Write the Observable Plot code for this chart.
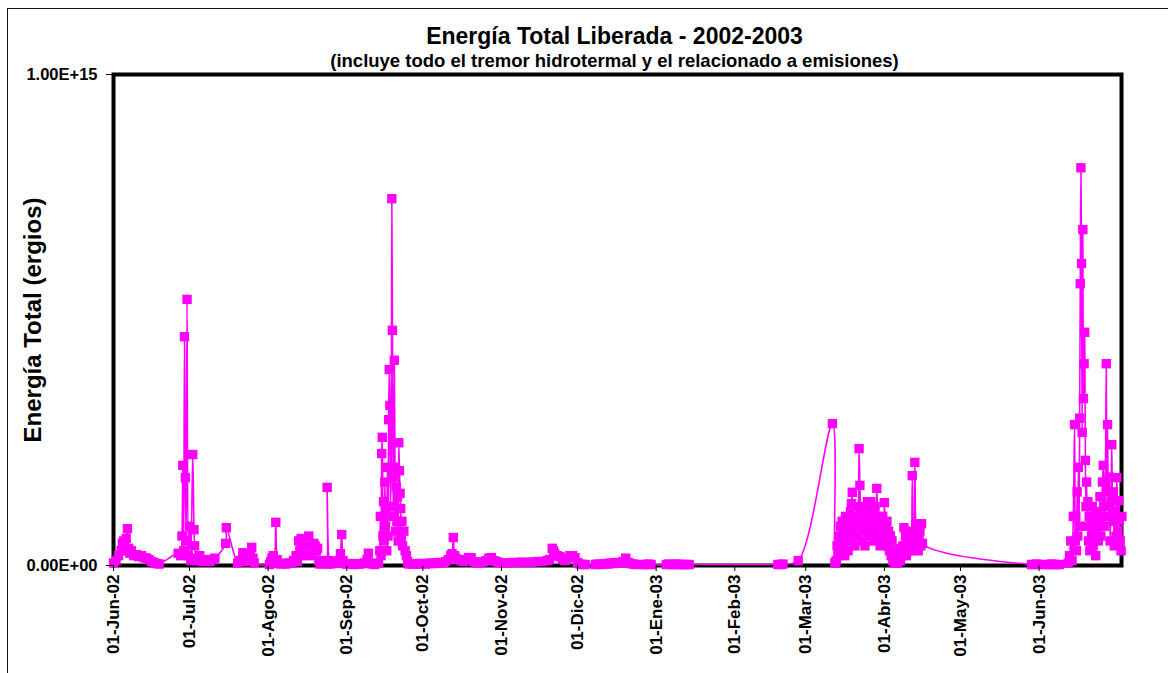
<!DOCTYPE html>
<html><head><meta charset="utf-8">
<script src="https://cdn.jsdelivr.net/npm/d3@7"></script>
<script src="https://cdn.jsdelivr.net/npm/@observablehq/plot@0.6"></script>
<style>
html,body{margin:0;padding:0;background:#fff;overflow:hidden;width:1168px;height:673px}
#wrap{position:relative;width:1168px;height:673px}
#borde{position:absolute;left:7px;top:8px;width:1200px;height:700px;border:1.5px solid #111;box-sizing:border-box}
#chart{position:absolute;left:0;top:0}
</style></head><body><div id="wrap"><div id="borde"></div><div id="chart"></div></div>
<script>
const titulo = "Energía Total Liberada - 2002-2003";
const subtitulo = "(incluye todo el tremor hidrotermal y el relacionado a emisiones)";
const etiquetaY = "Energía Total (ergios)";

const ticksX = ["2002-06-01","2002-07-01","2002-08-01","2002-09-01","2002-10-01","2002-11-01","2002-12-01","2003-01-01","2003-02-01","2003-03-01","2003-04-01","2003-05-01","2003-06-01"];
const etiquetasX = ["01-Jun-02","01-Jul-02","01-Ago-02","01-Sep-02","01-Oct-02","01-Nov-02","01-Dic-02","01-Ene-03","01-Feb-03","01-Mar-03","01-Abr-03","01-May-03","01-Jun-03"];
const ticksY = [0, 1e15];
const etiquetasY = ["0.00E+00", "1.00E+15"];
const dominioX = ["2002-06-01 00", "2003-07-03 12"];

const jun02 = [
["2002-06-01 00",5e12],["2002-06-02 00",1e13],["2002-06-03 00",2e13],["2002-06-04 00",3e13],["2002-06-04 12",4.5e13],["2002-06-05 00",5e13],["2002-06-05 12",3e13],["2002-06-06 00",5.5e13],["2002-06-06 12",7.5e13],["2002-06-07 00",3.5e13],["2002-06-07 12",2.5e13],["2002-06-08 00",3e13],["2002-06-09 00",2e13],["2002-06-10 00",2.2e13],["2002-06-11 00",1.8e13],["2002-06-12 00",2e13],["2002-06-13 00",1.6e13],["2002-06-14 00",1.5e13],["2002-06-15 00",1.2e13],["2002-06-16 00",8e12],["2002-06-17 00",6e12],["2002-06-18 00",4e12],["2002-06-19 00",3e12]
];
const jul02 = [
["2002-06-26 12",2.5e13],["2002-06-27 12",2e13],["2002-06-28 00",6e13],["2002-06-28 08",2.04e14],["2002-06-28 16",3e13],["2002-06-29 00",4.66e14],["2002-06-29 08",1.79e14],["2002-06-29 16",5e13],["2002-06-30 00",5.42e14],["2002-06-30 12",2e13],["2002-07-01 00",8e13],["2002-07-01 12",1e13],["2002-07-02 06",2.26e14],["2002-07-02 18",7.3e13],["2002-07-03 00",4e13],["2002-07-03 12",1.5e13],["2002-07-04 00",1e13],["2002-07-05 00",2e13],["2002-07-06 00",8e12],["2002-07-07 00",1.2e13],["2002-07-08 00",1e13],["2002-07-09 00",8e12],["2002-07-10 00",1.2e13],["2002-07-11 00",1.5e13],["2002-07-15 06",4.5e13],["2002-07-15 12",7.7e13],["2002-07-20 00",5e12],["2002-07-21 00",1e13],["2002-07-22 00",2.6e13],["2002-07-22 12",8e12],["2002-07-23 00",1.2e13],["2002-07-24 00",1e13],["2002-07-25 00",2e13],["2002-07-25 12",3.7e13],["2002-07-26 00",1.5e13],["2002-07-26 12",5e12]
];
const ago02 = [
["2002-08-01 12",2e12],["2002-08-02 00",8e12],["2002-08-02 12",1.5e13],["2002-08-03 00",2e13],["2002-08-03 12",1e13],["2002-08-04 00",8.8e13],["2002-08-04 12",1.2e13],["2002-08-05 00",5e12],["2002-08-06 00",3e12],["2002-08-07 00",4e12],["2002-08-08 00",3e12],["2002-08-09 00",5e12],["2002-08-10 00",5e12],["2002-08-11 00",1e13],["2002-08-12 00",2e13],["2002-08-12 12",8e12],["2002-08-13 00",5e13],["2002-08-13 12",3e13],["2002-08-14 00",5.5e13],["2002-08-14 12",2e13],["2002-08-15 00",3.5e13],["2002-08-16 00",4e13],["2002-08-17 00",6e13],["2002-08-18 00",2e13],["2002-08-19 00",4.5e13],["2002-08-19 12",4e13],["2002-08-20 00",3e13],["2002-08-20 12",3.5e13],["2002-08-21 00",1e13],["2002-08-21 12",3e12],["2002-08-22 00",5e12],["2002-08-22 12",8e12],["2002-08-23 00",1e13],["2002-08-23 12",6e12],["2002-08-24 00",3e12],["2002-08-24 06",1.59e14],["2002-08-25 00",1e13],["2002-08-25 12",3e12],["2002-08-26 00",5e12],["2002-08-27 00",8e12],["2002-08-28 00",5e12],["2002-08-29 00",1e13],["2002-08-29 12",2.4e13],["2002-08-30 00",6.3e13],["2002-08-30 12",1e13],["2002-08-31 00",4e12]
];
const sep02 = [
["2002-09-01 00",3e12],["2002-09-02 00",3e12],["2002-09-03 00",4e12],["2002-09-04 00",2e12],["2002-09-05 00",3e12],["2002-09-06 00",3e12],["2002-09-07 00",4e12],["2002-09-08 00",5e12],["2002-09-09 00",1.2e13],["2002-09-09 12",2.5e13],["2002-09-10 00",5e12],["2002-09-11 00",3e12],["2002-09-12 00",2e12],["2002-09-13 12",5e12],
["2002-09-14 00",3e13],["2002-09-14 06",1e14],["2002-09-14 12",2e13],["2002-09-14 18",2.28e14],["2002-09-15 00",2.61e14],["2002-09-15 06",6e13],["2002-09-15 12",1.3e14],["2002-09-15 18",5e13],["2002-09-16 00",1.7e14],["2002-09-16 06",8e13],["2002-09-16 12",1.1e14],["2002-09-16 18",3e13],["2002-09-17 00",2e14],["2002-09-17 06",6e13],["2002-09-17 12",2.97e14],["2002-09-17 18",3.99e14],["2002-09-18 00",3.26e14],["2002-09-18 06",1.2e14],["2002-09-18 12",2e14],["2002-09-18 18",7.47e14],["2002-09-19 00",4.79e14],["2002-09-19 06",1.8e14],["2002-09-19 12",1e14],["2002-09-19 18",4.18e14],["2002-09-20 00",2e14],["2002-09-20 06",7e13],["2002-09-20 12",1.6e14],["2002-09-20 18",9e13],["2002-09-21 00",1.4e14],["2002-09-21 06",5e13],["2002-09-21 12",2.5e14],["2002-09-21 18",1.93e14],["2002-09-22 00",1.47e14],["2002-09-22 06",1.16e14],["2002-09-22 12",6e13],["2002-09-22 18",9e13],["2002-09-23 00",4e13],["2002-09-23 12",7e13],["2002-09-24 00",3e13],["2002-09-24 12",2e13],["2002-09-25 00",8e12],["2002-09-25 12",3e12],
["2002-09-27 00",3e12],["2002-09-28 00",3e12],["2002-09-29 00",4e12],["2002-09-30 00",3e12]
];
const oct02 = [
["2002-10-01 00",4e12],["2002-10-02 00",3e12],["2002-10-03 00",4e12],["2002-10-04 00",5e12],["2002-10-05 00",4e12],["2002-10-06 00",5e12],["2002-10-07 00",6e12],["2002-10-08 00",5e12],["2002-10-09 00",6e12],["2002-10-10 00",8e12],["2002-10-11 00",1.2e13],["2002-10-12 00",2e13],["2002-10-12 12",2.4e13],["2002-10-13 00",5.7e13],["2002-10-13 12",2e13],["2002-10-14 00",1.5e13],["2002-10-15 00",1.2e13],["2002-10-16 00",1e13],["2002-10-17 00",8e12],["2002-10-18 00",1.2e13],["2002-10-19 00",1.6e13],["2002-10-20 00",1.6e13],["2002-10-21 00",8e12],["2002-10-22 00",6e12],["2002-10-23 00",5e12],["2002-10-24 00",6e12],["2002-10-25 00",8e12],["2002-10-26 00",1e13],["2002-10-27 00",1.5e13],["2002-10-28 00",1.6e13],["2002-10-29 00",1e13],["2002-10-30 00",8e12],["2002-10-31 00",6e12]
];
const nov02 = [
["2002-11-01 00",5e12],["2002-11-03 00",5e12],["2002-11-05 00",6e12],["2002-11-07 00",6e12],["2002-11-09 00",7e12],["2002-11-11 00",6e12],["2002-11-13 00",7e12],["2002-11-15 00",8e12],["2002-11-17 00",8e12],["2002-11-19 00",1e13],["2002-11-20 00",1.2e13],["2002-11-21 00",3.5e13],["2002-11-21 12",3e13],["2002-11-22 00",2.4e13],["2002-11-23 00",2e13],["2002-11-24 00",1.8e13],["2002-11-25 00",1.2e13],["2002-11-26 00",1e13],["2002-11-27 00",1.5e13],["2002-11-28 00",2e13],["2002-11-29 00",2e13],["2002-11-30 00",1.6e13]
];
const dic02 = [
["2002-12-01 00",6e12],["2002-12-02 00",3e12],["2002-12-03 00",2e12],["2002-12-04 00",2e12],["2002-12-08 00",2e12],["2002-12-09 00",3e12],["2002-12-10 00",2e12],["2002-12-11 00",3e12],["2002-12-12 00",4e12],["2002-12-13 00",3e12],["2002-12-14 00",5e12],["2002-12-15 00",4e12],["2002-12-16 00",6e12],["2002-12-17 00",5e12],["2002-12-18 00",6e12],["2002-12-19 00",8e12],["2002-12-20 00",1.5e13],["2002-12-21 00",6e12],["2002-12-22 00",4e12],["2002-12-23 00",3e12],["2002-12-24 00",2e12],["2002-12-27 00",2e12],["2002-12-28 00",2e12],["2002-12-29 00",3e12],["2002-12-30 00",2e12]
];
const ene03 = [
["2003-01-05 00",2e12],["2003-01-06 00",3e12],["2003-01-07 00",2e12],["2003-01-08 00",2e12],["2003-01-09 00",3e12],["2003-01-10 00",2e12],["2003-01-11 00",2e12],["2003-01-12 00",2e12],["2003-01-13 00",2e12],["2003-01-14 00",2e12]
];
const feb03 = [
["2003-02-18 00",2e12],["2003-02-19 00",2e12],["2003-02-20 00",3e12],["2003-02-26 00",1e13],["2003-03-11 12",2.89e14],["2003-03-12 12",5e12]
];
const mar03 = [
["2003-03-12 16",5e12],["2003-03-13 00",1e13],["2003-03-13 08",4e13],["2003-03-13 16",2e13],["2003-03-14 00",6e13],["2003-03-14 08",3e13],["2003-03-14 16",8e13],["2003-03-15 00",5e13],["2003-03-15 08",9e13],["2003-03-15 16",4e13],["2003-03-16 00",7e13],["2003-03-16 08",2e13],["2003-03-16 16",1e14],["2003-03-17 00",6e13],["2003-03-17 08",8e13],["2003-03-17 16",3e13],["2003-03-18 00",9e13],["2003-03-18 08",5e13],["2003-03-18 16",1.1e14],["2003-03-19 00",1.26e14],["2003-03-19 08",1.49e14],["2003-03-19 16",7e13],["2003-03-20 00",1e14],["2003-03-20 08",4e13],["2003-03-20 16",9e13],["2003-03-21 00",6e13],["2003-03-21 08",1.2e14],["2003-03-21 16",8e13],["2003-03-22 00",2.38e14],["2003-03-22 08",1.63e14],["2003-03-22 16",9e13],["2003-03-23 00",5e13],["2003-03-23 08",1.1e14],["2003-03-23 16",7e13],["2003-03-24 00",1e14],["2003-03-24 08",4e13],["2003-03-24 16",1.2e14],["2003-03-25 00",8e13],["2003-03-25 08",1.3e14],["2003-03-25 16",6e13],["2003-03-26 00",1.1e14],["2003-03-26 08",9e13],["2003-03-26 16",1.3e14],["2003-03-27 00",7e13],["2003-03-27 08",1e14],["2003-03-27 16",5e13],["2003-03-28 00",9e13],["2003-03-28 08",1.2e14],["2003-03-28 16",6e13],["2003-03-29 00",1.57e14],["2003-03-29 08",1e14],["2003-03-29 16",7e13],["2003-03-30 00",9e13],["2003-03-30 08",4e13],["2003-03-30 16",8e13],["2003-03-31 00",6e13],["2003-03-31 08",1e14],["2003-03-31 16",5e13],
["2003-04-01 00",1.28e14],["2003-04-01 08",8e13],["2003-04-01 16",6e13],["2003-04-02 00",9e13],["2003-04-02 08",4e13],["2003-04-02 16",7e13],["2003-04-03 00",3e13],["2003-04-03 08",6e13],["2003-04-03 16",2e13],["2003-04-04 00",5e13],["2003-04-04 08",1e13],["2003-04-04 16",3e13],["2003-04-05 00",5e12],["2003-04-05 08",2e13],["2003-04-05 16",1e13],["2003-04-06 00",3e13],["2003-04-06 08",5e12],["2003-04-06 16",2e13],["2003-04-07 00",3.5e13],["2003-04-07 08",1e13],["2003-04-07 16",3e13],["2003-04-08 00",2e13],["2003-04-08 08",4e13],["2003-04-08 16",7.7e13],["2003-04-09 00",3e13],["2003-04-09 08",6e13],["2003-04-09 16",2e13],["2003-04-10 00",5e13],["2003-04-10 08",3e13],["2003-04-10 16",7e13],["2003-04-11 00",4e13],["2003-04-11 08",6e13],["2003-04-11 16",3e13],["2003-04-12 00",1.83e14],["2003-04-12 08",6e13],["2003-04-12 16",4e13],["2003-04-13 00",2.1e14],["2003-04-13 08",8.1e13],["2003-04-13 16",5e13],["2003-04-14 00",8.5e13],["2003-04-14 08",3e13],["2003-04-14 16",6e13],["2003-04-15 00",7e13],["2003-04-15 08",4e13],["2003-04-15 16",8.5e13],["2003-04-16 00",4.5e13]
];
const may03 = [
["2003-05-29 00",2e12],["2003-05-30 00",2e12],["2003-05-31 00",3e12],["2003-06-01 00",2e12],["2003-06-04 00",2e12],["2003-06-05 00",2e12],["2003-06-06 00",3e12],["2003-06-07 00",2e12],["2003-06-08 00",2e12],["2003-06-09 00",2e12]
];
const jun03 = [
["2003-06-12 12",5e12],["2003-06-13 00",2e13],["2003-06-13 12",5e13],["2003-06-14 00",1e13],["2003-06-14 12",1e14],["2003-06-15 00",2.87e14],["2003-06-15 06",5e13],["2003-06-15 12",1e14],["2003-06-15 18",3e13],["2003-06-16 00",1.5e14],["2003-06-16 06",6e13],["2003-06-16 12",2e14],["2003-06-16 18",8e13],["2003-06-17 00",3e14],["2003-06-17 06",5.74e14],["2003-06-17 12",8.1e14],["2003-06-17 18",6.15e14],["2003-06-18 00",2.71e14],["2003-06-18 06",6.84e14],["2003-06-18 12",3.4e14],["2003-06-18 18",4.11e14],["2003-06-19 00",4.75e14],["2003-06-19 06",2.14e14],["2003-06-19 12",1.2e14],["2003-06-19 18",1.7e14],["2003-06-20 00",8e13],["2003-06-20 06",1.3e14],["2003-06-20 12",5e13],["2003-06-20 18",1e14],["2003-06-21 00",3e13],["2003-06-21 08",9e13],["2003-06-21 16",6e13],["2003-06-22 00",1.2e14],["2003-06-22 08",4e13],["2003-06-22 16",1e14],["2003-06-23 00",7e13],["2003-06-23 08",2e13],["2003-06-23 16",8e13],["2003-06-24 00",1.1e14],["2003-06-24 08",5e13],["2003-06-24 16",9e13],["2003-06-25 00",1.4e14],["2003-06-25 08",6e13],["2003-06-25 16",1e14],["2003-06-26 00",1.7e14],["2003-06-26 08",2.04e14],["2003-06-26 16",8e13],["2003-06-27 00",1.2e14],["2003-06-27 12",4.11e14],["2003-06-27 18",1.5e14],["2003-06-28 00",2.87e14],["2003-06-28 08",1e14],["2003-06-28 16",1.8e14],["2003-06-29 00",5e13],["2003-06-29 08",1.3e14],["2003-06-29 16",2.46e14],["2003-06-30 00",9e13],["2003-06-30 08",1.5e14],["2003-06-30 16",4e13],["2003-07-01 00",1.1e14],["2003-07-01 08",6e13],["2003-07-01 16",1.79e14],["2003-07-02 00",7e13],["2003-07-02 08",1.32e14],["2003-07-02 16",9.4e13],["2003-07-03 00",5e13],["2003-07-03 08",3e13],["2003-07-03 16",1e14]
];

const parse = d3.utcParse("%Y-%m-%d %H");
const data = [jun02, jul02, ago02, sep02, oct02, nov02, dic02, ene03, feb03, mar03, may03, jun03]
  .flat().map(([f, v]) => ({fecha: parse(f), energia: v}));
const fechasTicks = ticksX.map(d => parse(d + " 00"));
const etiqX = new Map(fechasTicks.map((d, i) => [+d, etiquetasX[i]]));
const etiqY = new Map(ticksY.map((d, i) => [d, etiquetasY[i]]));
const fuente = "'Liberation Sans', Arial, Helvetica, sans-serif";

const chart = Plot.plot({
  width: 1168, height: 673,
  marginTop: 74, marginLeft: 113, marginRight: 47, marginBottom: 108,
  style: {fontFamily: fuente, background: "transparent", color: "black", overflow: "visible"},
  x: {type: "utc", domain: dominioX.map(parse)},
  y: {domain: [0, 1e15]},
  marks: [
    Plot.frame({stroke: "black", strokeWidth: 4}),
    Plot.line(data, {x: "fecha", y: "energia", stroke: "#FF00FF", strokeWidth: 1.6, curve: "catmull-rom"}),
    Plot.dot(data, {x: "fecha", y: "energia", symbol: "square", r: 5.3, fill: "#FF00FF"}),
    Plot.axisX({ticks: fechasTicks, tickFormat: d => etiqX.get(+d), tickRotate: -90, tickSize: 6, tickPadding: 3, fontSize: 17, fontWeight: "bold", label: null}),
    Plot.axisY({ticks: ticksY, tickFormat: d => etiqY.get(d), tickSize: 7, tickPadding: 9, fontSize: 16.5, fontWeight: "bold", label: null}),
    Plot.text([titulo], {text: d => d, frameAnchor: "top", lineAnchor: "middle", textAnchor: "middle", dy: -38, dx: -3, fontSize: 23, fontWeight: "bold"}),
    Plot.text([subtitulo], {text: d => d, frameAnchor: "top", lineAnchor: "middle", textAnchor: "middle", dy: -13, dx: -3, fontSize: 18.5, fontWeight: "bold"}),
    Plot.text([etiquetaY], {text: d => d, frameAnchor: "left", lineAnchor: "middle", textAnchor: "middle", dx: -80, rotate: -90, fontSize: 24, fontWeight: "bold"})
  ]
});
document.getElementById("chart").appendChild(chart);
</script></body></html>
